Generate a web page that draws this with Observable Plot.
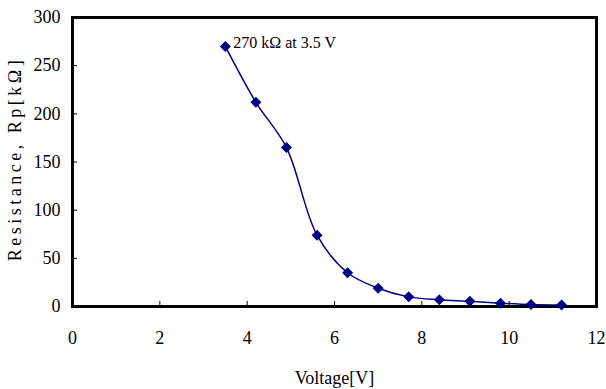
<!DOCTYPE html>
<html><head><meta charset="utf-8">
<script src="https://cdn.jsdelivr.net/npm/d3@7"></script>
<script src="https://cdn.jsdelivr.net/npm/@observablehq/plot@0.6"></script>
<style>
body{margin:0;background:#fff}
svg, svg text { font-family: "Liberation Serif", "Times New Roman", serif !important; }
</style>
</head><body><div id="chart"></div>
<script>
const voltage = [3.5, 4.2, 4.9, 5.6, 6.3, 7.0, 7.7, 8.4, 9.1, 9.8, 10.5, 11.2];
const resistance = [270, 212, 165, 74, 35, 19, 10, 7, 5.5, 3.5, 2, 1.5];
const xTicks = [0, 2, 4, 6, 8, 10, 12];
const yTicks = [0, 50, 100, 150, 200, 250, 300];
const annotationText = ["270 kΩ at 3.5 V"];
const annotationX = [3.5];
const annotationY = [270];
const xLabel = "Voltage[V]";
const yLabel = "Resistance, Rp[kΩ]";

const data = voltage.map((v, i) => ({v, r: resistance[i]}));
const notes = annotationText.map((t, i) => ({t, x: annotationX[i], y: annotationY[i]}));
const navy = "#000080";
const serif = "Liberation Serif";

const chart = Plot.plot({
  width: 606, height: 389,
  marginLeft: 72, marginTop: 17, marginRight: 10, marginBottom: 83,
  style: {fontFamily: serif, fontSize: "18px", color: "black", background: "white"},
  x: {domain: [0, 12]},
  y: {domain: [0, 300]},
  marks: [
    Plot.axisX({ticks: xTicks, tickSize: 0, tickPadding: 25, fontSize: 18, label: xLabel, labelAnchor: "center", labelOffset: 77, labelArrow: "none"}),
    Plot.axisX({ticks: xTicks, tickSize: -5, tickFormat: () => "", label: null}),
    Plot.axisY({ticks: yTicks, tickSize: 0, tickPadding: 12, fontSize: 18, label: null}),
    Plot.axisY({ticks: yTicks, tickSize: -5, tickFormat: () => "", label: null}),
    Plot.text([yLabel], {frameAnchor: "left", textAnchor: "middle", rotate: -90, dx: -57, dy: -3, fontSize: 18}),
    Plot.frame({stroke: "black", strokeWidth: 3}),
    Plot.line(data, {x: "v", y: "r", stroke: navy, strokeWidth: 1.5, curve: "catmull-rom"}),
    Plot.dot(data, {x: "v", y: "r", symbol: "diamond2", r: 4, fill: navy, stroke: navy}),
    Plot.text(notes, {x: "x", y: "y", text: "t", textAnchor: "start", dx: 8, dy: -4, fontSize: 16})
  ]
});
document.getElementById("chart").appendChild(chart);
d3.select(chart).selectAll("text").filter(function() { return this.textContent === yLabel; }).style("letter-spacing", "3.5px");
</script>
</body></html>
